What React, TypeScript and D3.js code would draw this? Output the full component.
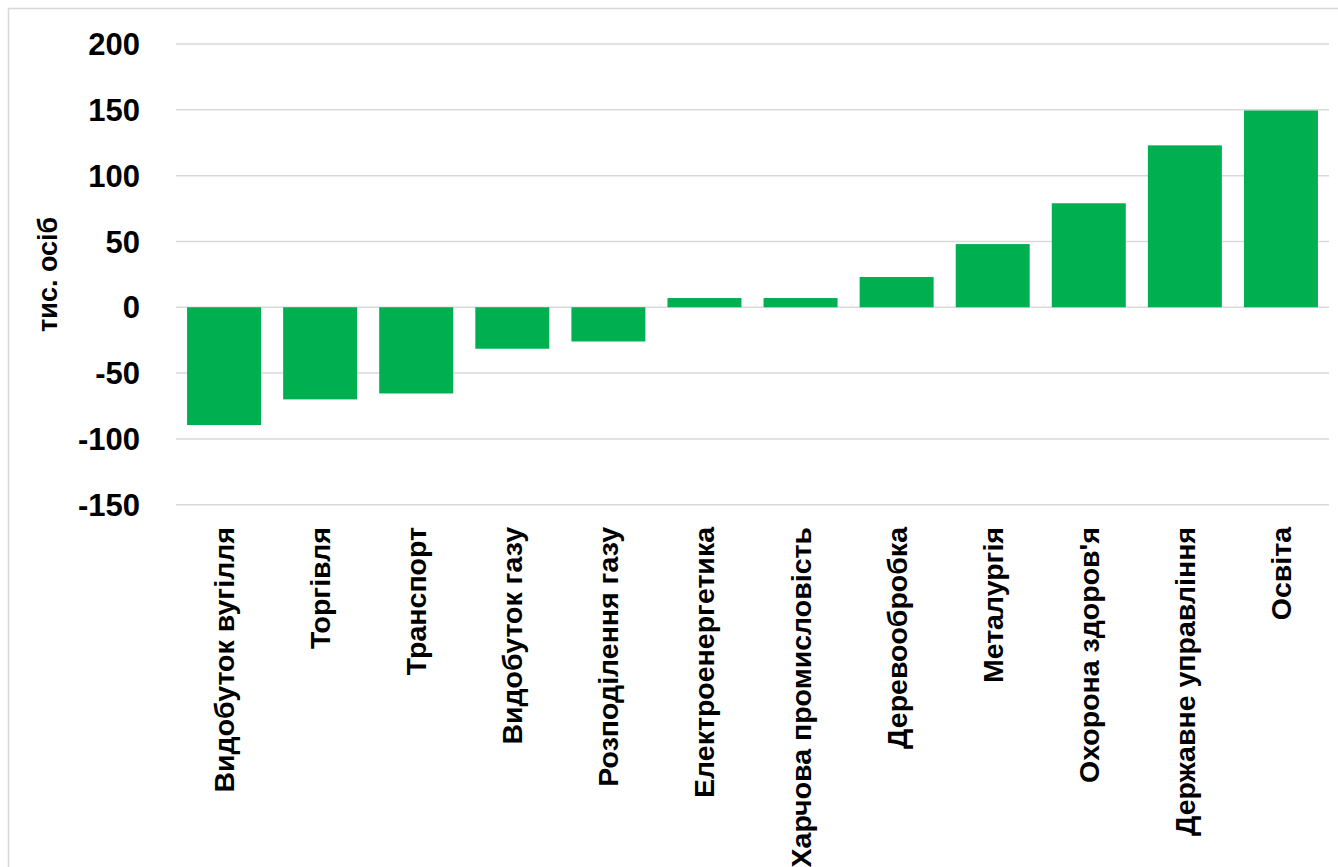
import React from "react";
import * as d3 from "d3";

// Change in employment by sector, thousand persons
const sectors = [
  "Видобуток вугілля",
  "Торгівля",
  "Транспорт",
  "Видобуток газу",
  "Розподілення газу",
  "Електроенергетика",
  "Харчова промисловість",
  "Деревообробка",
  "Металургія",
  "Охорона здоров'я",
  "Державне управління",
  "Освіта",
];
const changes = [-89.5, -70, -65.5, -31.5, -26, 7, 7, 23, 48, 79, 123, 149.5];
const yTicks = [200, 150, 100, 50, 0, -50, -100, -150];
const yTitle = "тис. осіб";

const W = 1338;
const H = 867;
const plot = { left: 176, right: 1329, top: 44, bottom: 504.7 };
const BAR = "#00B050";
const GRID = "#d9d9d9";
const FONT = "'Liberation Sans', Arial, sans-serif";

export default function App() {
  const x = d3
    .scaleBand<string>()
    .domain(sectors)
    .range([plot.left, plot.right])
    .paddingInner(0.23)
    .paddingOuter(0.115);
  const y = d3.scaleLinear().domain([-150, 200]).range([plot.bottom, plot.top]);

  return (
    <svg
      width={W}
      height={H}
      style={{ position: "absolute", left: 0, top: 0, background: "#fff" }}
    >
      <rect x={8.5} y={8.5} width={W + 20} height={H + 20} fill="#fff" stroke={GRID} strokeWidth={1.5} />

      {yTicks.map((t) => (
        <g key={t}>
          <line x1={plot.left} x2={plot.right} y1={y(t)} y2={y(t)} stroke={GRID} strokeWidth={1.5} />
          <text
            x={140}
            y={y(t)}
            dy="0.36em"
            textAnchor="end"
            fontFamily={FONT}
            fontWeight="bold"
            fontSize={31}
            fill="#000"
          >
            {t}
          </text>
        </g>
      ))}

      {sectors.map((s, i) => {
        const v = changes[i];
        const y0 = y(0);
        const yv = y(v);
        return (
          <rect
            key={s}
            x={x(s)}
            y={Math.min(y0, yv)}
            width={x.bandwidth()}
            height={Math.abs(yv - y0)}
            fill={BAR}
          />
        );
      })}

      {sectors.map((s) => {
        const cx = (x(s) as number) + x.bandwidth() / 2;
        return (
          <text
            key={s}
            transform={`translate(${cx},527) rotate(-90)`}
            dy="0.35em"
            textAnchor="end"
            fontFamily={FONT}
            fontWeight="bold"
            fontSize={28.5}
            fill="#000"
          >
            {s}
          </text>
        );
      })}

      <text
        transform={`translate(48,${(plot.top + plot.bottom) / 2}) rotate(-90)`}
        dy="0.35em"
        textAnchor="middle"
        fontFamily={FONT}
        fontWeight="bold"
        fontSize={27}
        fill="#000"
      >
        {yTitle}
      </text>
    </svg>
  );
}
